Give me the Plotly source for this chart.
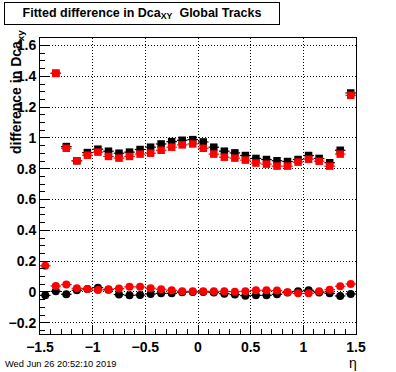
import plotly.graph_objects as go

# eta bin centres
eta = [-1.45, -1.35, -1.25, -1.15, -1.05, -0.95, -0.85, -0.75, -0.65, -0.55,
       -0.45, -0.35, -0.25, -0.15, -0.05, 0.05, 0.15, 0.25, 0.35, 0.45,
       0.55, 0.65, 0.75, 0.85, 0.95, 1.05, 1.15, 1.25, 1.35, 1.45]

# upper band (squares); first bin empty
black_sq = [None, 1.420, 0.944, 0.852, 0.905, 0.927, 0.914, 0.901, 0.908, 0.925,
            0.940, 0.961, 0.976, 0.985, 0.989, 0.974, 0.940, 0.914, 0.903, 0.886,
            0.867, 0.860, 0.852, 0.847, 0.860, 0.886, 0.867, 0.839, 0.920, 1.292]
red_sq = [None, 1.419, 0.933, 0.852, 0.888, 0.908, 0.880, 0.869, 0.880, 0.895,
          0.901, 0.920, 0.940, 0.955, 0.961, 0.933, 0.895, 0.875, 0.869, 0.856,
          0.837, 0.830, 0.817, 0.817, 0.843, 0.862, 0.849, 0.817, 0.895, 1.277]

# lower band (circles)
black_ci = [-0.022, 0.004, -0.015, 0.011, 0.020, 0.028, 0.015, -0.017, -0.022, -0.020,
            -0.013, -0.009, -0.009, -0.002, 0.000, 0.000, -0.004, -0.011, -0.017, -0.024,
            -0.022, -0.022, -0.015, -0.004, 0.004, 0.011, -0.004, -0.009, -0.026, -0.013]
red_ci = [0.170, 0.039, 0.048, 0.024, 0.020, 0.013, 0.017, 0.022, 0.033, 0.033,
          0.024, 0.017, 0.011, 0.004, 0.004, 0.004, 0.004, 0.004, 0.002, 0.004,
          0.011, 0.011, 0.009, -0.002, -0.009, -0.009, 0.004, 0.015, 0.037, 0.052]

half_width = [0.05] * len(eta)

x_tickvals = [-1.5, -1.0, -0.5, 0.0, 0.5, 1.0, 1.5]
x_ticktext = ["\u22121.5", "\u22121", "\u22120.5", "0", "0.5", "1", "1.5"]
y_tickvals = [-0.2, 0.0, 0.2, 0.4, 0.6, 0.8, 1.0, 1.2, 1.4, 1.6]
y_ticktext = ["\u22120.2", "0", "0.2", "0.4", "0.6", "0.8", "1", "1.2", "1.4", "1.6"]

W, H = 396, 372
ML, MR, MT, MB = 40, 40, 38, 38
PW, PH = W - ML - MR, H - MT - MB


def px(x):
    return (x - ML) / PW


def py(y):
    return (H - MB - y) / PH


FONT = "Liberation Sans, Arial, Helvetica, sans-serif"

fig = go.Figure()


def add(y, color, symbol, size):
    fig.add_trace(go.Scatter(
        x=eta, y=y, mode="markers",
        marker=dict(color=color, symbol=symbol, size=size, line=dict(width=0)),
        error_x=dict(type="data", array=half_width, color=color, thickness=1.2, width=0),
        error_y=dict(type="constant", value=0.006, color=color, thickness=1, width=0),
        showlegend=False, cliponaxis=True,
    ))


add(black_sq, "#000000", "square", 7.5)
add(red_sq, "#ff0000", "square", 7.5)
add(black_ci, "#000000", "circle", 8)
add(red_ci, "#ff0000", "circle", 8)

axis_common = dict(
    showline=True, linecolor="black", linewidth=1, mirror=True,
    ticks="inside", ticklen=9, tickwidth=1, tickcolor="black",
    showgrid=True, gridcolor="black", gridwidth=1, griddash="1px,2px",
    zeroline=False,
    tickfont=dict(family=FONT, size=14, color="black", weight="bold"),
)

fig.update_layout(
    width=W, height=H,
    margin=dict(l=ML, r=MR, t=MT, b=MB, autoexpand=False),
    paper_bgcolor="white", plot_bgcolor="white",
    xaxis=dict(range=[-1.5, 1.5], tickmode="array", tickvals=x_tickvals, ticktext=x_ticktext,
               automargin=False,
               minor=dict(dtick=0.1, tick0=-1.5, ticks="inside", ticklen=5, tickcolor="black", showgrid=False),
               **axis_common),
    yaxis=dict(range=[-0.273, 1.649], tickmode="array", tickvals=y_tickvals, ticktext=y_ticktext,
               automargin=False,
               minor=dict(dtick=0.05, tick0=0, ticks="inside", ticklen=5, tickcolor="black", showgrid=False),
               **axis_common),
    annotations=[
        dict(text="Fitted difference in Dca<sub>XY</sub>\u00a0\u00a0Global Tracks",
             xref="paper", yref="paper", x=px(4), y=py(2), xanchor="left", yanchor="top",
             showarrow=False, bordercolor="black", borderwidth=1, bgcolor="white",
             width=272, height=19, borderpad=1, align="center",
             font=dict(family=FONT, size=12.5, color="black", weight="bold")),
        dict(text="difference in Dca<sub>xy</sub>", textangle=-90,
             xref="paper", yref="paper", x=px(17), y=py(92), xanchor="center", yanchor="middle",
             showarrow=False, font=dict(family=FONT, size=14, color="black", weight="bold")),
        dict(text="\u03b7", xref="paper", yref="paper", x=px(352.5), y=py(363),
             xanchor="center", yanchor="middle", showarrow=False,
             font=dict(family=FONT, size=14, color="black")),
        dict(text="Wed Jun 26 20:52:10 2019", xref="paper", yref="paper", x=px(3), y=py(364),
             xanchor="left", yanchor="middle", showarrow=False,
             font=dict(family=FONT, size=9.3, color="black")),
    ],
)

fig.write_html("out.html", config={"displayModeBar": False},
               post_script="document.body.style.margin='0px';")
